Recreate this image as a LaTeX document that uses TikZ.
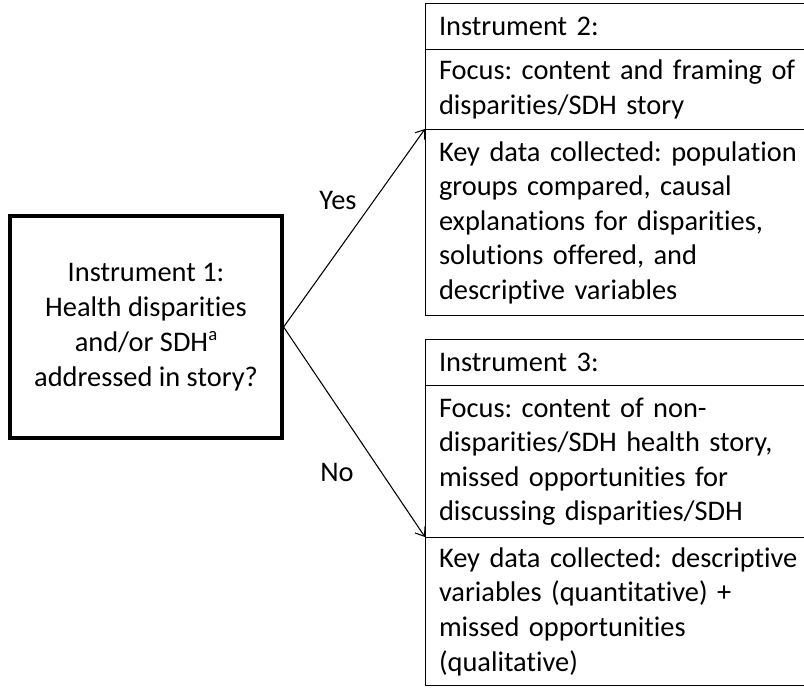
\documentclass[tikz,border=0pt]{standalone}
\usepackage{fontspec}
\setmainfont{Carlito}[Ligatures={NoCommon}]
\frenchspacing
\usetikzlibrary{arrows.meta}
\newcommand{\supa}{\raisebox{0.38em}{\fontsize{14}{14}\selectfont a}}
\tikzset{
  cell/.style={draw=black, line width=1pt, anchor=north west, minimum width=285.75pt,
    text width=272pt, align=left, inner xsep=10pt, inner ysep=0pt,
    font=\fontsize{21.3}{25.9}\selectfont},
  qbox/.style={draw=black, line width=2.4pt, minimum width=204pt, minimum height=166.5pt,
    align=center, inner sep=0pt, font=\fontsize{21.3}{26.2}\selectfont},
  conn/.style={line width=0.8pt, -{Straight Barb[length=6pt,width=9pt]}},
  lbl/.style={font=\fontsize{21.3}{25.9}\selectfont, inner sep=0pt}
}
\begin{document}
\begin{tikzpicture}[x=0.75pt,y=-0.75pt]
\clip (0,0) rectangle (804,687);
\fill[white] (0,0) rectangle (804,687);
% question box
\node[qbox] (b1) at (146,327) {Instrument 1:\\Health disparities\\and/or SDH\supa\\addressed in story?};
% instrument 2
\node[cell, minimum height=34.5pt] (b2a) at (425,3) {Instrument 2:};
\node[cell, minimum height=60pt] (b2b) at (425,49) {Focus: content and framing of\\disparities/SDH story};
\node[cell, minimum height=139.5pt, inner ysep=-2pt] (b2c) at (425,129) {Key data collected: population\\groups compared, causal\\explanations for disparities,\\solutions offered, and\\descriptive variables};
% instrument 3
\node[cell, minimum height=34.5pt] (b3a) at (425,339) {Instrument 3:};
\node[cell, minimum height=114pt] (b3b) at (425,385) {Focus: content of non-\\disparities/SDH health story,\\missed opportunities for\\discussing disparities/SDH};
\node[cell, minimum height=111pt] (b3c) at (425,537) {Key data collected: descriptive\\variables (quantitative) +\\missed opportunities\\(qualitative)};
% connectors
\draw[conn] (b1.east) -- (b2c.north west);
\draw[conn] (b1.east) -- (b3c.north west);
\node[lbl] (yes) at (338,200) {Yes};
\node[lbl] (no) at (337,472) {No};
\end{tikzpicture}
\end{document}
